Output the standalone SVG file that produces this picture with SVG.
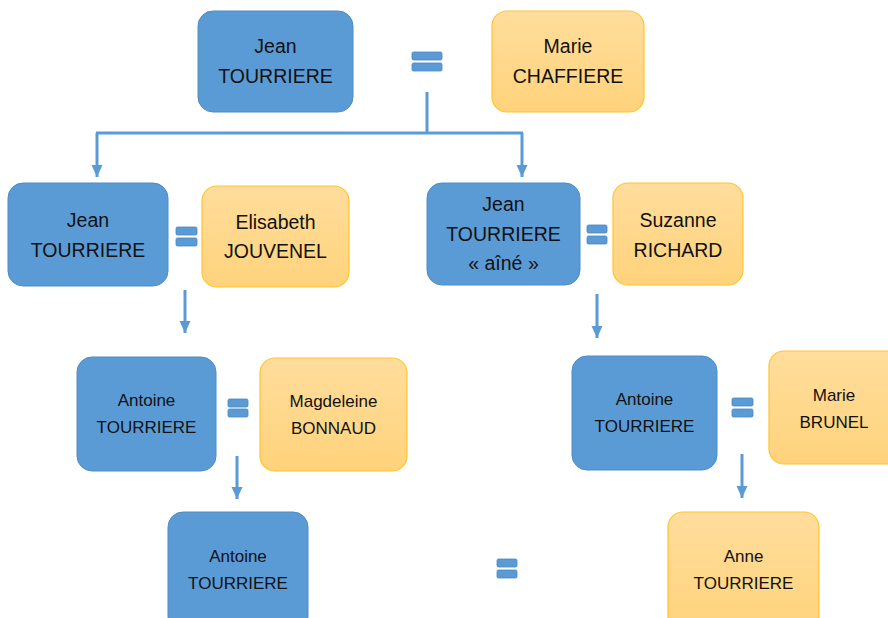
<svg xmlns="http://www.w3.org/2000/svg" width="888" height="618" viewBox="0 0 888 618">
<defs>
<linearGradient id="og" x1="0" y1="0" x2="0" y2="1">
<stop offset="0" stop-color="#FFDD9C"/>
<stop offset="1" stop-color="#FFD37C"/>
</linearGradient>
<marker id="ah" markerUnits="userSpaceOnUse" markerWidth="12" markerHeight="12" viewBox="0 0 12 12" refX="12" refY="6" orient="auto">
<path d="M0,0.5 L12,6 L0,11.5 Z" fill="#5B9BD5"/>
</marker>
<style>
.m{fill:#5B9BD5;stroke:#4E8CC4;stroke-width:1}
.f{fill:url(#og);stroke:#FFC42E;stroke-width:1.2}
.eq{fill:#5B9BD5;stroke:#4A86BD;stroke-width:0.8}
.t{font-family:"Liberation Sans",Arial,sans-serif;font-size:19.5px;fill:#111;text-anchor:middle}
.s{font-size:17px}
.c{fill:none;stroke:#5B9BD5;stroke-width:3}
</style>
</defs>
<rect width="888" height="618" fill="#fff"/>
<g id="connectors">
<path class="c" d="M427,92 V133"/>
<path class="c" d="M96,133 H523"/>
<path class="c" d="M97,133 V177" marker-end="url(#ah)"/>
<path class="c" d="M522,133 V177" marker-end="url(#ah)"/>
<path class="c" d="M185,290 V333" marker-end="url(#ah)"/>
<path class="c" d="M597,294 V338" marker-end="url(#ah)"/>
<path class="c" d="M237,456 V499" marker-end="url(#ah)"/>
<path class="c" d="M742,454 V498" marker-end="url(#ah)"/>
</g>
<g id="equals">
<rect class="eq" x="412" y="52" width="30" height="8" rx="1.5"/><rect class="eq" x="412" y="63" width="30" height="8" rx="1.5"/>
<rect class="eq" x="176" y="227" width="21" height="8" rx="1.5"/><rect class="eq" x="176" y="238" width="21" height="8" rx="1.5"/>
<rect class="eq" x="587" y="225" width="20" height="8" rx="1.5"/><rect class="eq" x="587" y="236" width="20" height="8" rx="1.5"/>
<rect class="eq" x="228" y="399" width="20" height="8" rx="1.5"/><rect class="eq" x="228" y="409" width="20" height="8" rx="1.5"/>
<rect class="eq" x="732" y="398" width="21" height="8" rx="1.5"/><rect class="eq" x="732" y="409" width="21" height="8" rx="1.5"/>
<rect class="eq" x="497" y="559" width="20" height="8" rx="1.5"/><rect class="eq" x="497" y="570" width="20" height="8" rx="1.5"/>
</g>
<g id="n1"><rect class="m" x="198" y="11" width="155" height="101" rx="15"/>
<text class="t" x="275.5" y="53">Jean</text><text class="t" x="275.5" y="83">TOURRIERE</text></g>
<g id="n2"><rect class="f" x="492" y="11" width="152" height="101" rx="15"/>
<text class="t" x="568" y="53">Marie</text><text class="t" x="568" y="83">CHAFFIERE</text></g>
<g id="n3"><rect class="m" x="8" y="183" width="160" height="103" rx="15"/>
<text class="t" x="88" y="227">Jean</text><text class="t" x="88" y="257">TOURRIERE</text></g>
<g id="n4"><rect class="f" x="202" y="186" width="147" height="101" rx="15"/>
<text class="t" x="275.5" y="229">Elisabeth</text><text class="t" x="275.5" y="258">JOUVENEL</text></g>
<g id="n5"><rect class="m" x="427" y="183" width="153" height="102" rx="15"/>
<text class="t" x="503.5" y="211">Jean</text><text class="t" x="503.5" y="241">TOURRIERE</text><text class="t" x="503.5" y="270">« aîné »</text></g>
<g id="n6"><rect class="f" x="613" y="183" width="130" height="102" rx="15"/>
<text class="t" x="678" y="227">Suzanne</text><text class="t" x="678" y="257">RICHARD</text></g>
<g id="n7"><rect class="m" x="77" y="357" width="139" height="114" rx="15"/>
<text class="t s" x="146.5" y="406">Antoine</text><text class="t s" x="146.5" y="433">TOURRIERE</text></g>
<g id="n8"><rect class="f" x="260" y="358" width="147" height="113" rx="15"/>
<text class="t s" x="333.5" y="407">Magdeleine</text><text class="t s" x="333.5" y="434">BONNAUD</text></g>
<g id="n9"><rect class="m" x="572" y="356" width="145" height="114" rx="15"/>
<text class="t s" x="644.5" y="405">Antoine</text><text class="t s" x="644.5" y="432">TOURRIERE</text></g>
<g id="n10"><rect class="f" x="769" y="351" width="150" height="113" rx="15"/>
<text class="t s" x="834" y="401">Marie</text><text class="t s" x="834" y="428">BRUNEL</text></g>
<g id="n11"><rect class="m" x="168" y="512" width="140" height="120" rx="15"/>
<text class="t s" x="238" y="562">Antoine</text><text class="t s" x="238" y="589">TOURRIERE</text></g>
<g id="n12"><rect class="f" x="668" y="512" width="151" height="120" rx="15"/>
<text class="t s" x="743.5" y="562">Anne</text><text class="t s" x="743.5" y="589">TOURRIERE</text></g>
</svg>
